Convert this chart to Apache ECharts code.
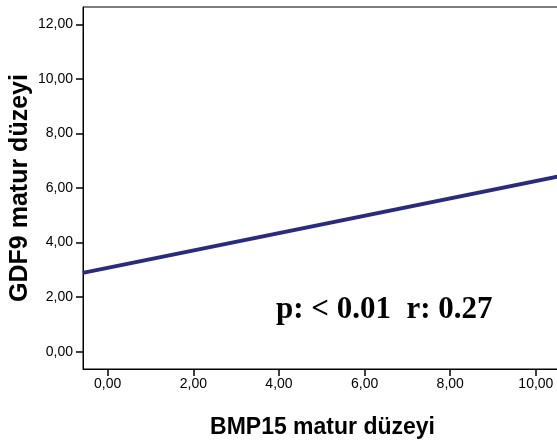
<!DOCTYPE html>
<html><head><meta charset="utf-8">
<script src="https://cdn.jsdelivr.net/npm/echarts@6/dist/echarts.min.js"></script>
<style>html,body{margin:0;padding:0;background:#fff}#c{width:557px;height:446px}</style>
</head><body><div id="c"></div>
<script>
const xTicks = [0, 2, 4, 6, 8, 10];
const yTicks = [0, 2, 4, 6, 8, 10, 12];
const fitX = [-0.58, 10.61];
const fitY = [2.89, 6.45];
const xName = 'BMP15 matur düzeyi';
const yName = 'GDF9 matur düzeyi';
const annotation = 'p: < 0.01  r: 0.27';

const fmt = v => v.toFixed(2).replace('.', ',');
const chart = echarts.init(document.getElementById('c'), null, {renderer: 'canvas'});
chart.setOption({
  animation: false,
  backgroundColor: '#fff',
  grid: {left: 83, top: 7, width: 479, height: 362, outerBoundsMode: 'none', containLabel: false,
    show: true, borderColor: '#000', borderWidth: 1, backgroundColor: 'transparent'},
  xAxis: {
    type: 'value', min: -0.577, max: 10.61,
    splitLine: {show: false},
    axisLine: {show: true, onZero: false, lineStyle: {color: '#000', width: 1}},
    axisTick: {show: true, length: 7, customValues: xTicks, lineStyle: {color: '#000', width: 1.5}},
    axisLabel: {customValues: xTicks, formatter: fmt, color: '#000', fontFamily: 'Liberation Sans, Arial', fontSize: 14, margin: 8},
    name: xName, nameLocation: 'middle', nameGap: 47,
    nameTextStyle: {color: '#000', fontFamily: 'Liberation Sans, Arial', fontWeight: 'bold', fontSize: 23}
  },
  yAxis: {
    type: 'value', min: -0.634, max: 12.64,
    splitLine: {show: false},
    axisLine: {show: true, onZero: false, lineStyle: {color: '#000', width: 1}},
    axisTick: {show: true, length: 7, customValues: yTicks, lineStyle: {color: '#000', width: 1.5}},
    axisLabel: {customValues: yTicks, formatter: fmt, color: '#000', fontFamily: 'Liberation Sans, Arial', fontSize: 14, margin: 10},
    name: yName, nameLocation: 'middle', nameGap: 50, nameRotate: 90, nameMoveOverlap: false,
    nameTextStyle: {color: '#000', fontFamily: 'Liberation Sans, Arial', fontWeight: 'bold', fontSize: 25}
  },
  graphic: [{
    type: 'text', left: 276, top: 294,
    style: {text: annotation, fill: '#000', font: 'bold 31px "Liberation Serif", "Times New Roman", serif'}
  }],
  series: [{
    type: 'line', data: fitX.map((x, i) => [x, fitY[i]]),
    symbol: 'none', clip: true,
    lineStyle: {color: '#2b2b7e', width: 4}
  }]
});
</script></body></html>
